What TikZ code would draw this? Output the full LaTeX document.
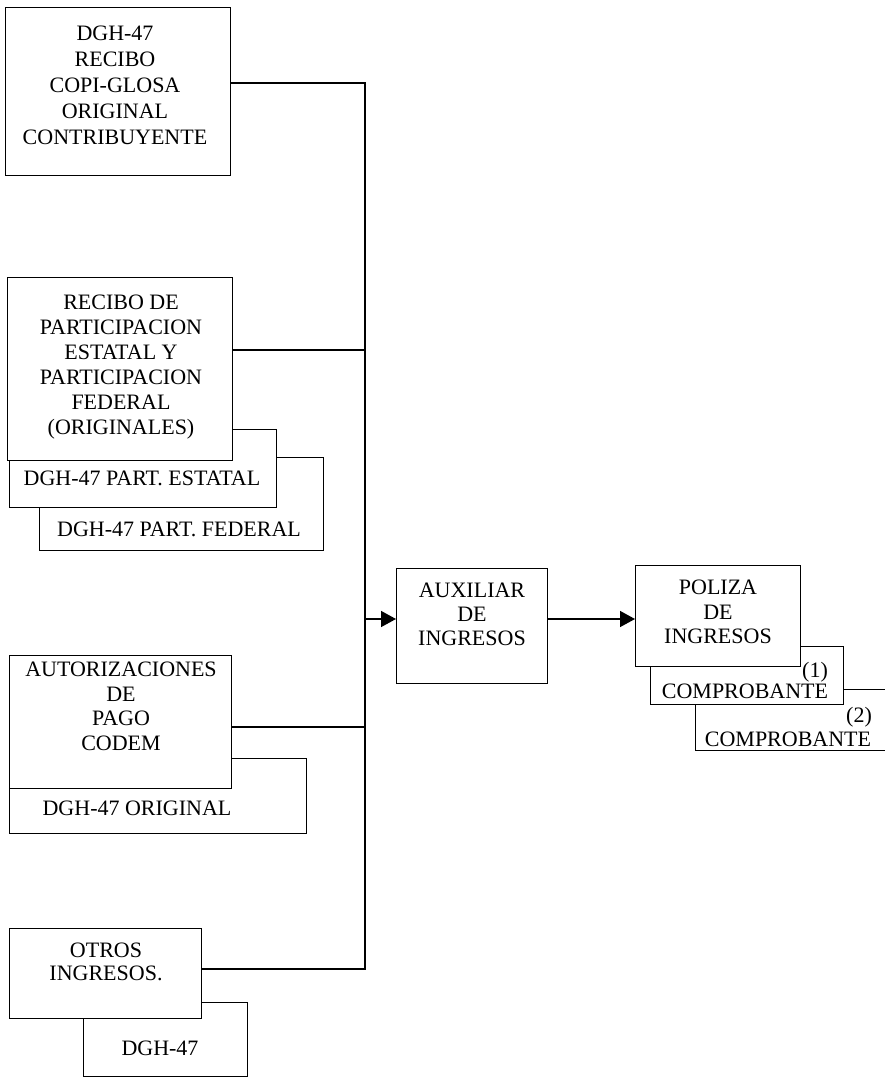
\documentclass[tikz,border=0pt]{standalone}
\usepackage{fontspec}
\setmainfont{Liberation Serif}
\usetikzlibrary{arrows.meta}
\begin{document}
\begin{tikzpicture}[x=1pt,y=-1pt,
  box/.style={draw, fill=white, line width=1.3pt, inner sep=0pt, anchor=north west},
  txt/.style={inner sep=0pt, align=center, font=\fontsize{22}{25}\selectfont},
  wire/.style={line width=1.5pt},
  arr/.style={wire, -{Triangle[length=15pt,width=16pt]}}]
\useasboundingbox (0,0) rectangle (885,1079);
\clip (0,0) rectangle (885,1079);
% boxes, back to front
\node[box, minimum width=225pt, minimum height=168pt] (b1) at (5,7) {};
\node[box, minimum width=284pt, minimum height=93pt] (fed) at (39,457) {};
\node[box, minimum width=267pt, minimum height=78pt] (est) at (9,429) {};
\node[box, minimum width=225pt, minimum height=183pt] (b2) at (7,277) {};
\node[box, minimum width=297pt, minimum height=75pt] (orig) at (9,758) {};
\node[box, minimum width=222pt, minimum height=133pt] (aut) at (9,655) {};
\node[box, minimum width=164pt, minimum height=74pt] (d47) at (83,1002) {};
\node[box, minimum width=192pt, minimum height=90pt] (otr) at (9,928) {};
\node[box, minimum width=151pt, minimum height=115pt] (aux) at (396,568) {};
\node[box, minimum width=200pt, minimum height=61pt] (c2) at (695,689) {};
\node[box, minimum width=193pt, minimum height=58pt] (c1) at (650,646) {};
\node[box, minimum width=165pt, minimum height=101pt] (pol) at (635,565) {};
% connectors
\coordinate (jt) at (365,83);
\coordinate (j2) at (365,350);
\coordinate (ja) at (365,619);
\coordinate (j3) at (365,727);
\coordinate (jb) at (365,969);
\draw[wire] (b1.east |- jt) -- (jt) -- (jb) -- (otr.east |- jb);
\draw[wire] (b2.east |- j2) -- (j2);
\draw[wire] (aut.east |- j3) -- (j3);
\draw[arr] (ja) -- (aux.west |- ja);
\draw[arr] (aux.east |- ja) -- (pol.west |- ja);
% texts
\node[txt, font=\fontsize{22}{26}\selectfont, anchor=north] (t1) at (115,26) {DGH-47\\RECIBO\\COPI-GLOSA\\ORIGINAL\\CONTRIBUYENTE};
\node[txt, anchor=north] (t2) at (121,295) {RECIBO DE\\PARTICIPACION\\ESTATAL Y\\PARTICIPACION\\FEDERAL\\(ORIGINALES)};
\node[txt, anchor=base] (test) at (142,485) {DGH-47 PART. ESTATAL};
\node[txt, anchor=base] (tfed) at (179,536) {DGH-47 PART. FEDERAL};
\node[txt, font=\fontsize{22}{24.5}\selectfont, anchor=north] (taut) at (121,662) {AUTORIZACIONES\\DE\\PAGO\\CODEM};
\node[txt, anchor=base] (torig) at (137,815) {DGH-47 ORIGINAL};
\node[txt, font=\fontsize{22}{23}\selectfont, anchor=north] (totr) at (106,943) {OTROS\\INGRESOS.};
\node[txt, anchor=base] (td47) at (160,1055) {DGH-47};
\node[txt, font=\fontsize{22}{24}\selectfont, anchor=north] (taux) at (472,583) {AUXILIAR\\DE\\INGRESOS};
\node[txt, font=\fontsize{22}{24.5}\selectfont, anchor=north] (tpol) at (718,580) {POLIZA\\DE\\INGRESOS};
\node[txt, anchor=base] (tc1) at (745,698) {COMPROBANTE};
\node[txt, anchor=base] (tn1) at (815,677) {(1)};
\node[txt, anchor=base] (tc2) at (788,746) {COMPROBANTE};
\node[txt, anchor=base] (tn2) at (859,722) {(2)};
\end{tikzpicture}
\end{document}
